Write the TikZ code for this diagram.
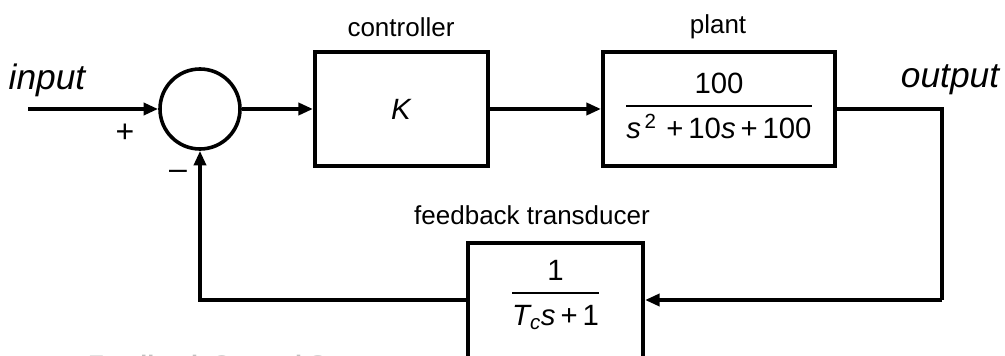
\documentclass[tikz,border=0pt]{standalone}
\usepackage{fontspec}
\setmainfont{Liberation Sans}
\usetikzlibrary{arrows.meta}
\newcommand{\frc}[2]{\setlength{\arrayrulewidth}{1.4pt}\begin{tabular}{@{}c@{}}#1\\[1pt]\hline\rule{0pt}{1.05em}#2\end{tabular}}
\begin{document}
\begin{tikzpicture}[x=0.75pt,y=-0.75pt,
  blk/.style={draw,line width=3pt,rectangle,inner sep=0pt},
  wire/.style={line width=3pt},
  arr/.style={line width=3pt,-{Triangle[length=11pt,width=9pt]}},
  lbl/.style={font=\fontsize{19.5}{22}\selectfont,inner sep=0pt},
  sgn/.style={font=\fontsize{24}{26}\selectfont,inner sep=0pt},
  io/.style={font=\fontsize{26.5}{30}\selectfont\itshape,inner sep=0pt},
  mth/.style={font=\fontsize{22}{26}\selectfont}]
\path[use as bounding box,clip] (0,0) rectangle (1005,356);
% blocks
\node[draw,line width=2.7pt,circle,minimum size=60pt,inner sep=0pt] (sum) at (200,109) {};
\node[blk,minimum width=129.75pt,minimum height=85.5pt,mth] (ctrl) at (401.5,109) {\textit{K}};
\node[blk,minimum width=174pt,minimum height=85.5pt,mth] (plant) at (719,109) {\frc{100}{\textit{s}\textsuperscript{\,2}\,\,+\,10\textit{s}\,+\,100}};
\node[blk,minimum width=131.25pt,minimum height=97.5pt] (tr) at (555.5,308) {};
\node[mth,inner sep=0pt] (trtext) at (555.5,296) {\frc{1}{\textit{T\textsubscript{c}s}\,+\,1}};
% labels
\node[io] (in) at (47,80) {input};
\node[io] (out) at (950,80) {output};
\node[sgn] (plus) at (125,133) {+};
\node[sgn] (minus) at (178,175) {\textendash};
\node[lbl] (lc) at (401,27) {controller};
\node[lbl] (lp) at (718,27) {plant};
\node[lbl] (lt) at (532,215) {feedback transducer};
\node[font=\fontsize{19}{22}\selectfont\bfseries,text=black!25,anchor=north west,inner sep=0pt] (cap) at (88,355) {Feedback Control System};
% connectors
\coordinate (start) at (28,109);
\coordinate (corner) at (942,109);
\coordinate (fb) at (942,300);
\draw[arr] (start) -- (sum.west);
\draw[arr] (sum.east) -- (ctrl.west);
\draw[arr] (ctrl.east) -- (plant.west);
\draw[wire] (plant.east) -- (corner) -- (fb);
\draw[arr] (fb) -- (tr.east |- fb);
\draw[arr] (tr.west |- fb) -| (sum.south);
\end{tikzpicture}
\end{document}
